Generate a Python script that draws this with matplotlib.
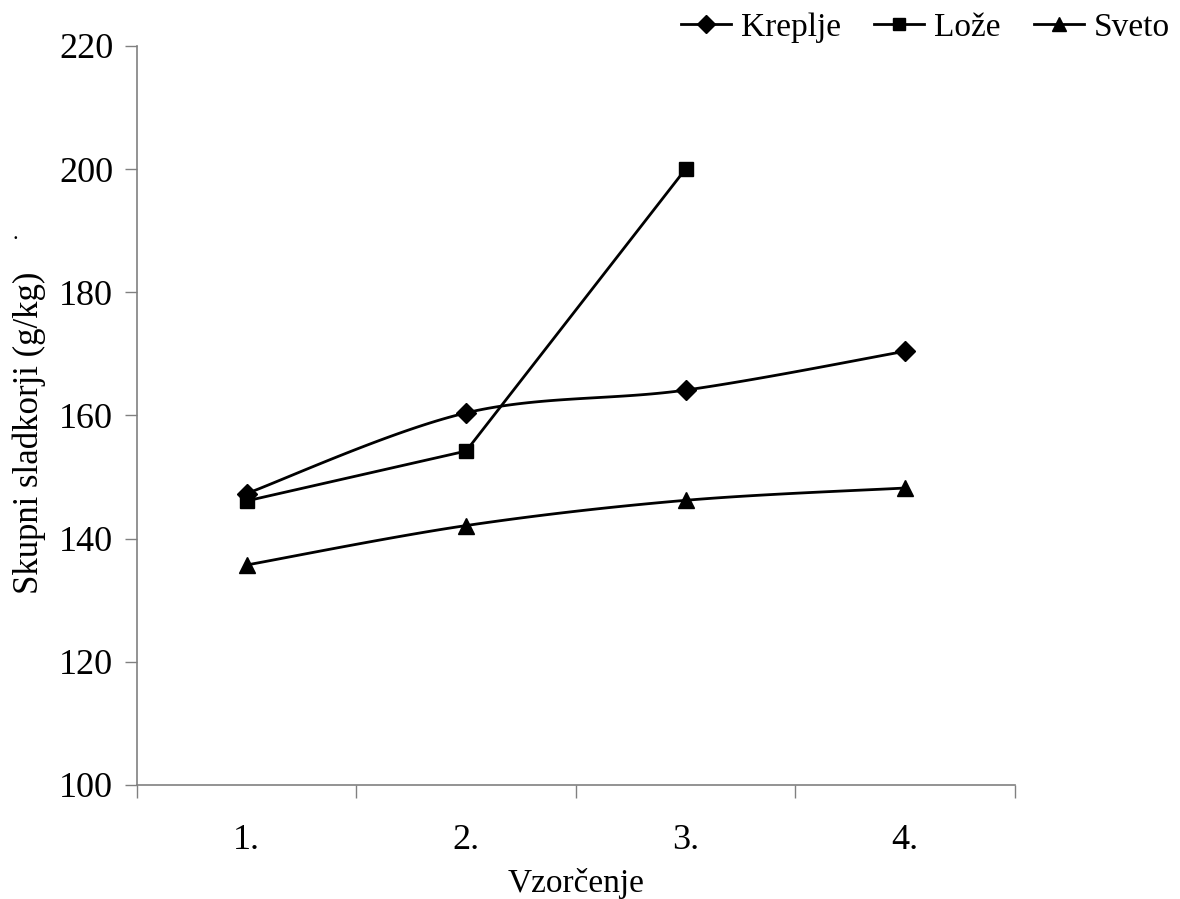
import numpy as np
import matplotlib.pyplot as plt

# Skupni sladkorji po vzorčenjih za tri lokacije
vzorcenje = ['1.', '2.', '3.', '4.']
kreplje = [147.3, 160.4, 164.1, 170.4]
loze = [146.1, 154.2, 200.0]
sveto = [135.7, 142.1, 146.2, 148.2]


def smooth(x, y, n=40):
    # gladka krivulja skozi točke (Bezier s tangentami kot v Excelu)
    x = np.asarray(x, float)
    y = np.asarray(y, float)
    px = np.concatenate([[x[0]], x, [x[-1]]])
    py = np.concatenate([[y[0]], y, [y[-1]]])
    xs, ys = [], []
    t = np.linspace(0, 1, n)
    for i in range(len(x) - 1):
        p0 = np.array([x[i], y[i]])
        p3 = np.array([x[i + 1], y[i + 1]])
        p1 = p0 + (np.array([px[i + 2], py[i + 2]]) - np.array([px[i], py[i]])) / 6
        p2 = p3 - (np.array([px[i + 3], py[i + 3]]) - np.array([px[i + 1], py[i + 1]])) / 6
        b = ((1 - t) ** 3)[:, None] * p0 + (3 * (1 - t) ** 2 * t)[:, None] * p1 \
            + (3 * (1 - t) * t ** 2)[:, None] * p2 + (t ** 3)[:, None] * p3
        xs.extend(b[:, 0])
        ys.extend(b[:, 1])
    return xs, ys


plt.rcParams['font.family'] = 'Liberation Serif'

fig = plt.figure(figsize=(11.8, 8.99), dpi=100)
ax = fig.add_axes([0.116, 0.127, 0.744, 0.822])

x4 = np.arange(1, 5)
x3 = np.arange(1, 4)

lw = 2.0
xs, ys = smooth(x4, kreplje)
ax.plot(xs, ys, color='black', lw=lw)
ax.plot(x4, kreplje, ls='none', marker='D', ms=10.5, color='black')
ax.plot(x3, loze, color='black', lw=lw, marker='s', ms=10.5)
xs, ys = smooth(x4, sveto)
ax.plot(xs, ys, color='black', lw=lw)
ax.plot(x4, sveto, ls='none', marker='^', ms=11.5, color='black')

# legenda
h1 = plt.Line2D([], [], color='black', lw=lw, marker='D', ms=9)
h2 = plt.Line2D([], [], color='black', lw=lw, marker='s', ms=9)
h3 = plt.Line2D([], [], color='black', lw=lw, marker='^', ms=10)
fig.legend([h1, h2, h3], ['Kreplje', 'Lože', 'Sveto'], loc='upper right',
           bbox_to_anchor=(1.017, 1.02), ncol=3, frameon=False, fontsize=24,
           handlelength=1.5, handletextpad=0.3, columnspacing=1.0)

ax.set_xlim(0.5, 4.5)
ax.set_ylim(100, 220)
ax.set_yticks(np.arange(100, 221, 20))
ax.set_xticks(np.arange(0.5, 4.6, 1))
ax.set_xticklabels([])
ax.set_xticks(x4, minor=True)
ax.set_xticklabels(vzorcenje, minor=True)
ax.tick_params(axis='x', which='minor', length=0, pad=28, labelsize=26)
ax.tick_params(axis='x', which='major', length=9, width=1, color='#808080')
ax.tick_params(axis='y', length=9, width=1, color='#808080', labelsize=26, pad=8)

for s in ['top', 'right']:
    ax.spines[s].set_visible(False)
for s in ['left', 'bottom']:
    ax.spines[s].set_color('#808080')
    ax.spines[s].set_linewidth(1.2)

ax.set_xlabel('Vzorčenje', fontsize=24)
ax.xaxis.set_label_coords(0.5, -0.112)
ax.set_ylabel('Skupni sladkorji (g/kg)', fontsize=25)
ax.yaxis.set_label_coords(-0.104, 0.476)
fig.text(0.0127, 0.734, '.', fontsize=16, ha='center', va='baseline')

fig.savefig('out.png', dpi=100)
